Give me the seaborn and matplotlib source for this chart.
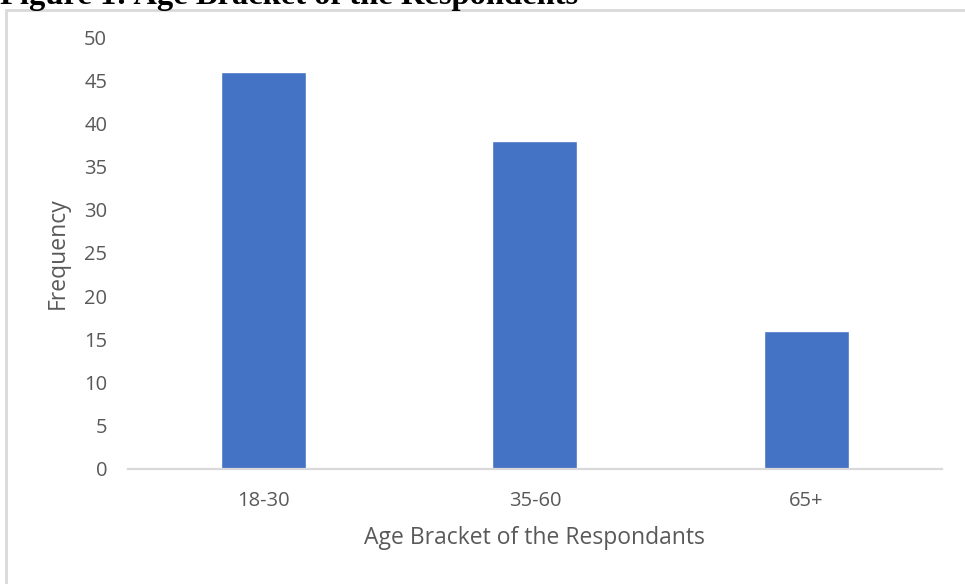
import matplotlib
matplotlib.use("Agg")
import matplotlib.pyplot as plt
import seaborn as sns
import pandas as pd
from matplotlib.patches import Rectangle

# Respondent counts per age bracket
age_brackets = ["18-30", "35-60", "65+"]
frequency = [46, 38, 16]
y_ticks = [0, 5, 10, 15, 20, 25, 30, 35, 40, 45, 50]

sns.set_theme(style="white")
plt.rcParams["font.family"] = ["Open Sans", "DejaVu Sans"]

df = pd.DataFrame({"Age": age_brackets, "Frequency": frequency})

fig = plt.figure(figsize=(9.65, 5.84), dpi=100)
ax = fig.add_axes([0.1326, 0.197, 0.8434, 0.7396])

sns.barplot(data=df, x="Age", y="Frequency", color="#4472C4", width=0.313,
            saturation=1, ax=ax)

ax.set_xlim(-0.5, 2.5)
ax.set_ylim(0, 50)
ax.set_yticks(y_ticks)
for s in ["top", "right", "left"]:
    ax.spines[s].set_visible(False)
ax.spines["bottom"].set_color("#d9d9d9")
ax.spines["bottom"].set_linewidth(1.6)
ax.tick_params(axis="y", length=0, pad=15, labelsize=14.5, labelcolor="#595959")
ax.tick_params(axis="x", length=0, pad=16, labelsize=14.5, labelcolor="#595959")
ax.set_xlabel("Age Bracket of the Respondants", fontsize=16.5, color="#595959")
ax.set_ylabel("Frequency", fontsize=16.5, color="#595959")
ax.xaxis.set_label_coords(0.5, -0.132)
ax.yaxis.set_label_coords(-0.071, 0.5)

# Chart frame
fig.patches.append(Rectangle((6 / 965, -0.1), 1.2, 1 - 10 / 584 + 0.1,
                             transform=fig.transFigure, fill=False,
                             edgecolor="#d9d9d9", linewidth=2, zorder=0))

# Caption above the chart
fig.text(0.0, 1 - 4 / 584, "Figure 1: Age Bracket of the Respondents",
         family="Liberation Serif", fontweight="bold", fontsize=23.4,
         color="black", ha="left", va="baseline")

fig.savefig("out.png", dpi=100)
